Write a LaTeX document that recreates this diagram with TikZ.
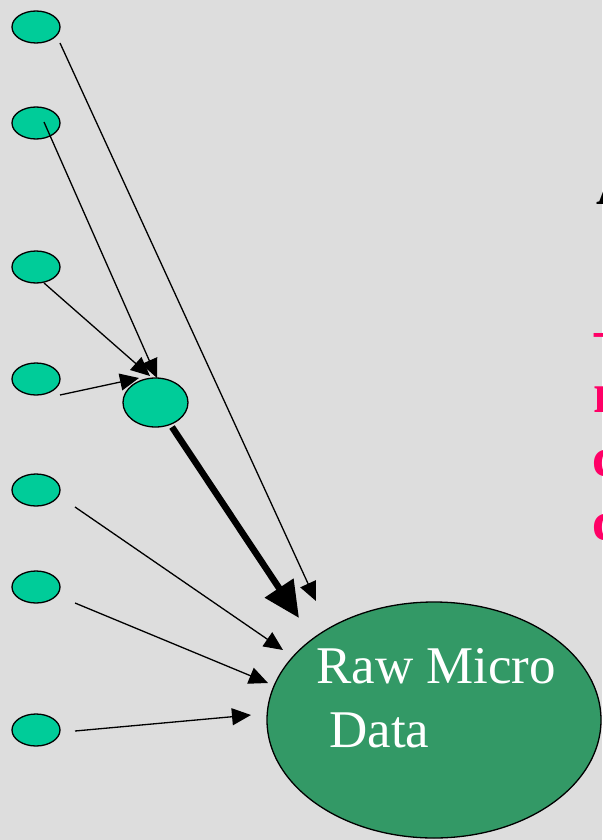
\documentclass[tikz,border=0pt]{standalone}
\usepackage{fontspec}
\setmainfont{Liberation Serif}
\usetikzlibrary{shapes.geometric,arrows.meta}

\definecolor{slidebg}{HTML}{DDDDDD}
\definecolor{leafgreen}{HTML}{00CC99}
\definecolor{poolgreen}{HTML}{339966}
\definecolor{notepink}{HTML}{FF0066}

\tikzset{
  leaf/.style={ellipse, draw=black, line width=1.3pt, fill=leafgreen,
    minimum width=48pt, minimum height=32pt, inner sep=0pt},
  hubnode/.style={ellipse, draw=black, line width=1.3pt, fill=leafgreen,
    minimum width=65pt, minimum height=49pt, inner sep=0pt},
  pool/.style={ellipse, draw=black, line width=1.3pt, fill=poolgreen,
    minimum width=334pt, minimum height=236pt, inner sep=0pt},
  feed/.style={line width=1.3pt, -{Triangle[length=19pt,width=17pt]}},
  mainfeed/.style={line width=6.5pt, -{Triangle[length=36pt,width=33pt]}},
  pooltext/.style={anchor=base west, inner sep=0pt, text=white,
    font=\fontsize{53}{64}\selectfont},
  margintext/.style={anchor=base west, inner sep=0pt, text=notepink,
    font=\fontsize{56}{64}\selectfont\bfseries},
}

\begin{document}
\begin{tikzpicture}[x=1pt,y=-1pt]
  % page frame
  \useasboundingbox (0,0) rectangle (602,840);
  \clip (0,0) rectangle (602,840);
  \fill[slidebg] (0,0) rectangle (602,840);

  % source records
  \node[leaf] (e1) at (36,27) {};
  \node[leaf] (e2) at (36,123) {};
  \node[leaf] (e3) at (36,267) {};
  \node[leaf] (e4) at (36,379) {};
  \node[leaf] (e5) at (36,490) {};
  \node[leaf] (e6) at (36,587) {};
  \node[leaf] (e7) at (36,730) {};

  % intermediate record
  \node[hubnode] (hub) at (155.5,402.5) {};

  % raw micro data pool
  \node[pool] (raw) at (434,720) {};
  \node[pooltext] (rawA) at (316,683) {Raw Micro};
  \node[pooltext] (rawB) at (329,747) {Data};

  % connector end points
  \coordinate (e1-out) at (60,43);
  \coordinate (e2-out) at (44,122);
  \coordinate (e3-out) at (44,283);
  \coordinate (e4-out) at (60,395);
  \coordinate (e5-out) at (75,507);
  \coordinate (e6-out) at (75,603);
  \coordinate (e7-out) at (75,731);
  \coordinate (hub-out) at (172,427);
  \coordinate (hub-in2) at (157,378);
  \coordinate (hub-in3) at (150,376);
  \coordinate (hub-in4) at (139,378);
  \coordinate (raw-in1) at (316,601);
  \coordinate (raw-inh) at (299,618);
  \coordinate (raw-in5) at (283,650);
  \coordinate (raw-in6) at (268,683);
  \coordinate (raw-in7) at (251,715);

  % connectors
  \draw[feed] (e1-out) -- (raw-in1);
  \draw[feed] (e2-out) -- (hub-in2);
  \draw[feed] (e3-out) -- (hub-in3);
  \draw[feed] (e4-out) -- (hub-in4);
  \draw[mainfeed] (hub-out) -- (raw-inh);
  \draw[feed] (e5-out) -- (raw-in5);
  \draw[feed] (e6-out) -- (raw-in6);
  \draw[feed] (e7-out) -- (raw-in7);

  % margin notes running off the page edge
  \node[margintext, text=black] (noteA) at (596,204) {A};
  \node[margintext] (note1) at (594,348) {–};
  \node[margintext] (note2) at (593,412) {n};
  \node[margintext] (note3) at (592,476) {c};
  \node[margintext] (note4) at (592,540) {c};
\end{tikzpicture}
\end{document}
